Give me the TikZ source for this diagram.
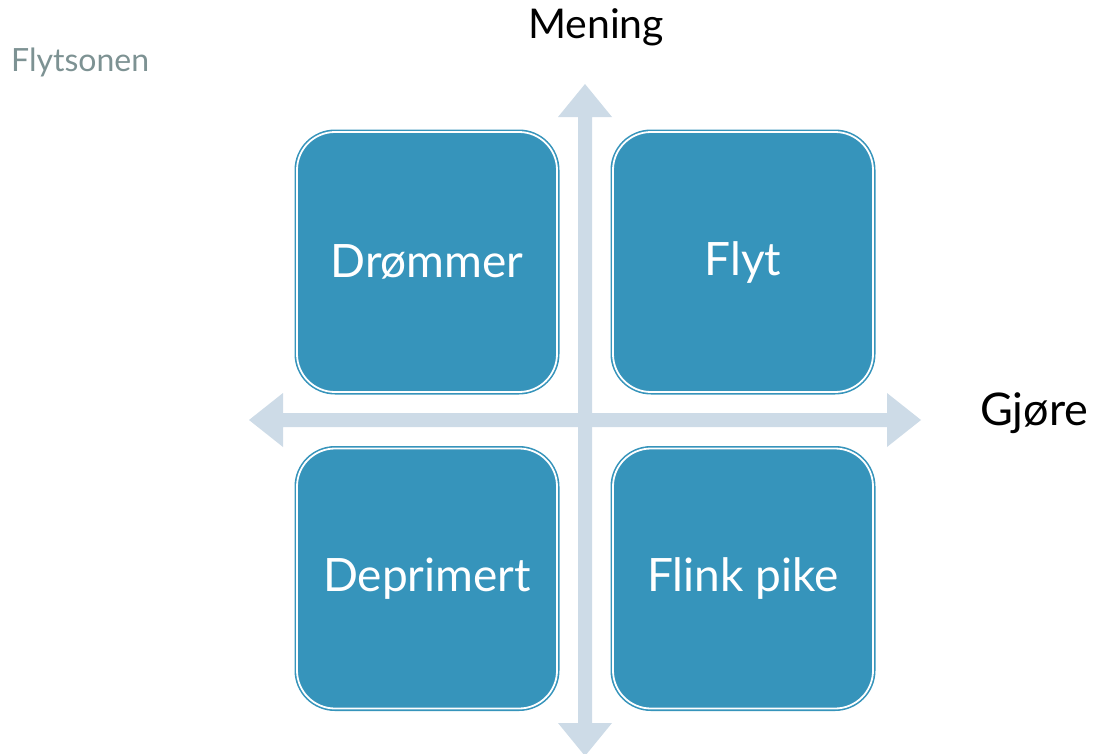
\documentclass[tikz,border=0pt]{standalone}
\usepackage{fontspec}
\setmainfont{Lato}
\definecolor{boxblue}{HTML}{3694BB}
\definecolor{axisgray}{HTML}{CDDBE7}
\definecolor{titlegray}{HTML}{7D9293}
\begin{document}
\begin{tikzpicture}[x=1pt,y=-1pt,
  quad/.style={draw=boxblue, line width=1.6pt, double=white, double distance=1.8pt,
    fill=boxblue, rounded corners=38pt, minimum width=260pt, minimum height=260pt,
    text=white, font=\fontsize{46}{52}\selectfont, inner sep=0pt},
  axislabel/.style={text=black, font=\fontsize{41}{48}\selectfont, inner sep=0pt}]
\useasboundingbox (0,0) rectangle (1097,753);
% axes
\fill[axisgray] (249,420) -- (283,393) -- (283,413) -- (887,413) -- (887,393) -- (921,420)
  -- (887,447) -- (887,427) -- (283,427) -- (283,447) -- cycle;
\fill[axisgray] (585,84) -- (612,117) -- (592,117) -- (592,723) -- (612,723) -- (585,756)
  -- (558,723) -- (578,723) -- (578,117) -- (558,117) -- cycle;
% boxes
\node[quad] (dream) at (427,262) {Drømmer};
\node[quad] (flow) at (743,262) {Flyt};
\node[quad] (dep) at (427,578.5) {Deprimert};
\node[quad] (good) at (743,578.5) {Flink pike};
% labels
\node[axislabel, anchor=base] (mening) at (596,38) {Mening};
\node[axislabel, anchor=base west, font=\fontsize{45}{52}\selectfont] (gjore) at (980,425) {Gjøre};
\node[anchor=base west, inner sep=0pt, text=titlegray, font=\fontsize{32}{36}\selectfont] (title) at (11,71) {Flytsonen};
\end{tikzpicture}
\end{document}
